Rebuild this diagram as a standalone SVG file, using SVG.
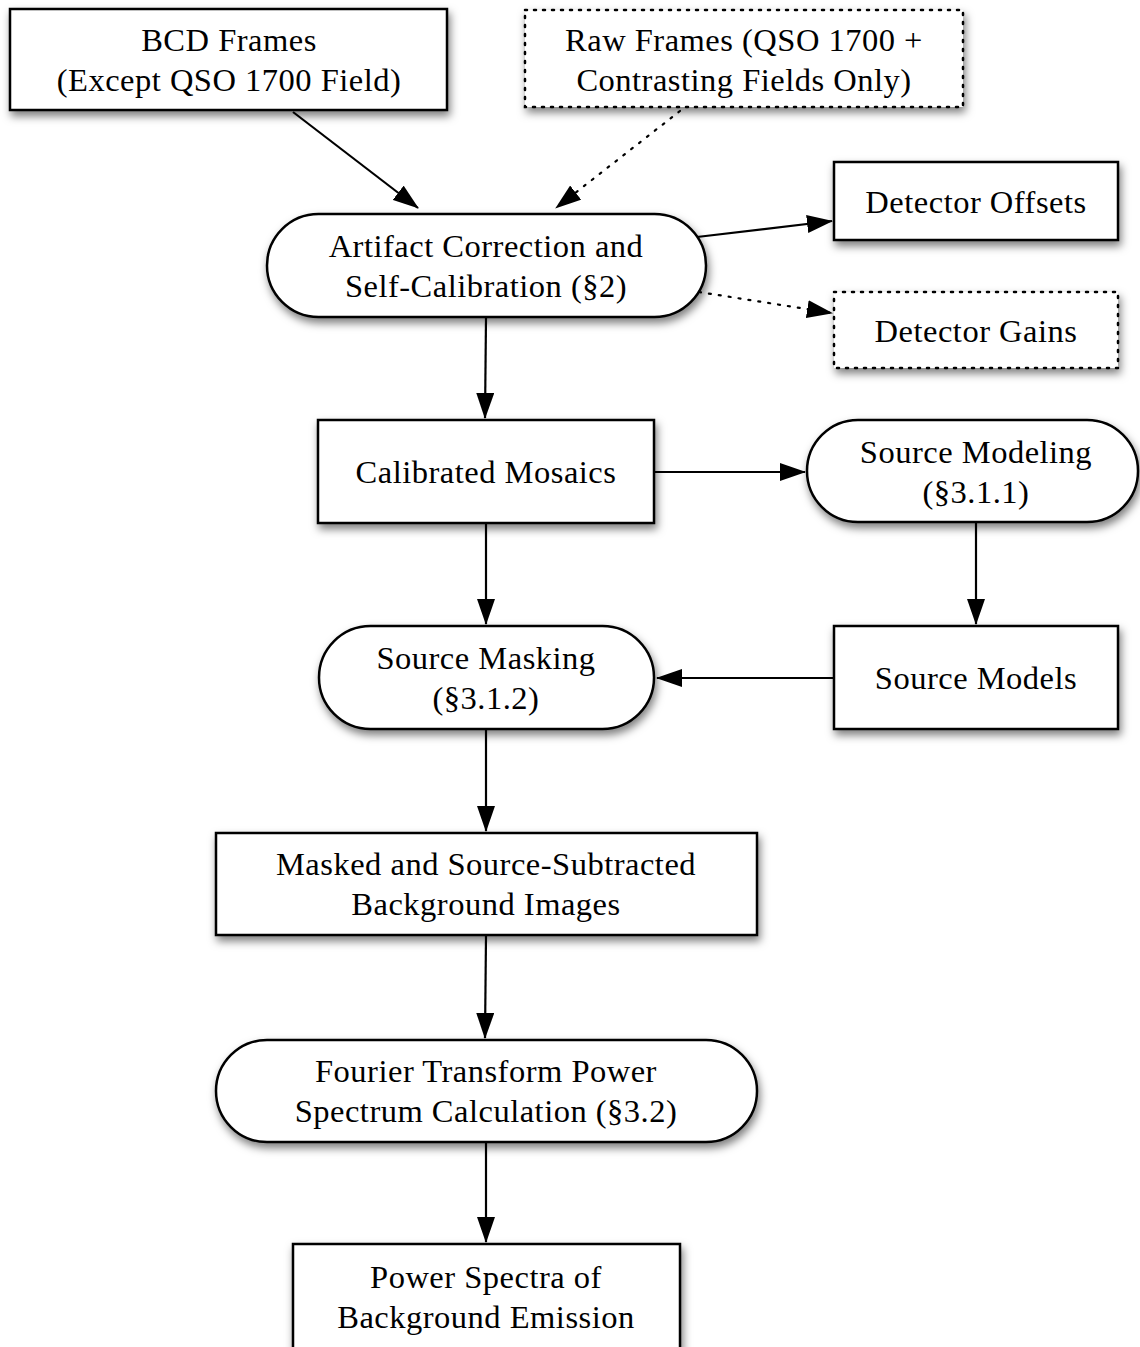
<svg xmlns="http://www.w3.org/2000/svg" width="1140" height="1347" viewBox="0 0 1140 1347">
<style>
.n{fill:#fff;stroke:#000;stroke-width:2.5;filter:url(#sh)}
.d{stroke-dasharray:2 7;stroke-linecap:round}
.t{font-family:'Liberation Serif','Times New Roman',Times,serif;font-size:32.5px;letter-spacing:0.5px;fill:#000;text-anchor:middle}
.c{stroke:#000;stroke-width:2.2;fill:none;marker-end:url(#ah)}
.cd{stroke-dasharray:2 8;stroke-linecap:round}
</style>
<defs>
<filter id="sh" x="-10%" y="-20%" width="130%" height="160%">
<feDropShadow dx="2" dy="5" stdDeviation="4" flood-color="#000" flood-opacity="0.5"/>
</filter>
<marker id="ah" viewBox="0 0 26 18" refX="25" refY="9" markerWidth="26" markerHeight="18" markerUnits="userSpaceOnUse" orient="auto">
<path d="M0,0 L26,9 L0,18 Z" fill="#000"/>
</marker>
</defs>
<g id="connectors">
<line class="c" x1="293" y1="112" x2="418" y2="208"/>
<line class="c cd" x1="680" y1="111" x2="556" y2="208"/>
<line class="c" x1="697" y1="237" x2="832" y2="221"/>
<line class="c cd" x1="699" y1="292" x2="832" y2="313"/>
<line class="c" x1="486" y1="318" x2="485" y2="418"/>
<line class="c" x1="655" y1="472" x2="805" y2="472"/>
<line class="c" x1="486" y1="524" x2="486" y2="624"/>
<line class="c" x1="976" y1="523" x2="976" y2="624"/>
<line class="c" x1="834" y1="678" x2="657" y2="678"/>
<line class="c" x1="486" y1="730" x2="486" y2="831"/>
<line class="c" x1="486" y1="936" x2="485" y2="1038"/>
<line class="c" x1="486" y1="1143" x2="486" y2="1242"/>
</g>
<g id="bcd">
<rect class="n" x="10" y="9" width="437" height="101"/>
<text class="t" x="229" y="51">BCD Frames</text>
<text class="t" x="229" y="91">(Except QSO 1700 Field)</text>
</g>
<g id="raw">
<rect class="n d" x="525" y="10" width="438" height="97"/>
<text class="t" x="744" y="51">Raw Frames (QSO 1700 +</text>
<text class="t" x="744" y="91">Contrasting Fields Only)</text>
</g>
<g id="artifact">
<rect class="n" x="267" y="214" width="439" height="103" rx="51.5" ry="51.5"/>
<text class="t" x="486" y="257">Artifact Correction and</text>
<text class="t" x="486" y="297">Self-Calibration (§2)</text>
</g>
<g id="offsets">
<rect class="n" x="834" y="162" width="284" height="78"/>
<text class="t" x="976" y="213">Detector Offsets</text>
</g>
<g id="gains">
<rect class="n d" x="834" y="292" width="284" height="76"/>
<text class="t" x="976" y="342">Detector Gains</text>
</g>
<g id="mosaics">
<rect class="n" x="318" y="420" width="336" height="103"/>
<text class="t" x="486" y="483">Calibrated Mosaics</text>
</g>
<g id="modeling">
<rect class="n" x="807" y="420" width="331" height="102" rx="51" ry="51"/>
<text class="t" x="976" y="463">Source Modeling</text>
<text class="t" x="976" y="503">(§3.1.1)</text>
</g>
<g id="masking">
<rect class="n" x="319" y="626" width="335" height="103" rx="51.5" ry="51.5"/>
<text class="t" x="486" y="669">Source Masking</text>
<text class="t" x="486" y="709">(§3.1.2)</text>
</g>
<g id="models">
<rect class="n" x="834" y="626" width="284" height="103"/>
<text class="t" x="976" y="689">Source Models</text>
</g>
<g id="masked">
<rect class="n" x="216" y="833" width="541" height="102"/>
<text class="t" x="486" y="875">Masked and Source-Subtracted</text>
<text class="t" x="486" y="915">Background Images</text>
</g>
<g id="fourier">
<rect class="n" x="216" y="1040" width="541" height="102" rx="51" ry="51"/>
<text class="t" x="486" y="1082">Fourier Transform Power</text>
<text class="t" x="486" y="1122">Spectrum Calculation (§3.2)</text>
</g>
<g id="power">
<rect class="n" x="293" y="1244" width="387" height="120"/>
<text class="t" x="486" y="1288">Power Spectra of</text>
<text class="t" x="486" y="1328">Background Emission</text>
</g>
</svg>
